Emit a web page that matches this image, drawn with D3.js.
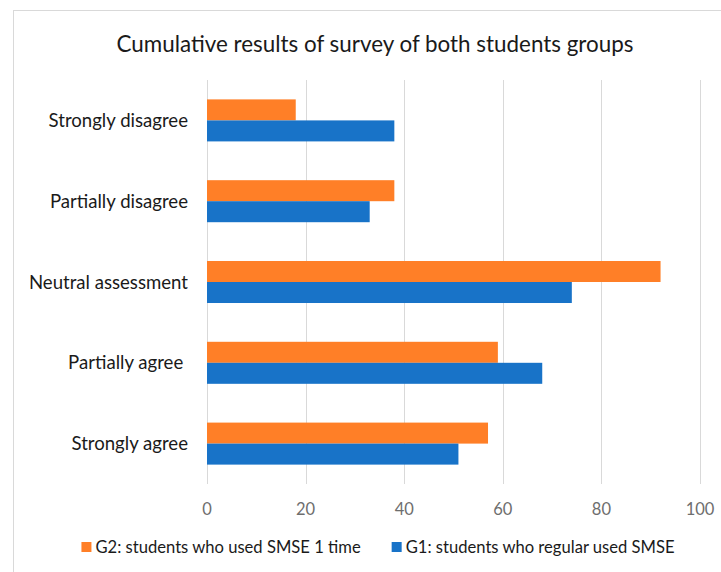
<!DOCTYPE html>
<html lang="en">
<head>
    <meta charset="UTF-8">
    <title>Cumulative results of survey of both students groups</title>
    <script src="https://cdn.jsdelivr.net/npm/d3@7"></script>
    <style>
        body {
            margin: 0;
            background: #fff;
        }

        svg text {
            font-family: Lato, "Open Sans", sans-serif;
        }

        .grid line {
            stroke: #d9d9d9;
            stroke-width: 1px
        }

        .cat-label {
            white-space: pre;
        }
    </style>
</head>
<body>
<div id="chart"></div>
<script>
    var categories = ['Strongly disagree', 'Partially disagree', 'Neutral assessment', 'Partially agree ', 'Strongly agree'];
    var seriesNames = ['G2: students who used SMSE 1 time', 'G1: students who regular used SMSE'];
    var g2Values = [18, 38, 92, 59, 57];
    var g1Values = [38, 33, 74, 68, 51];
    var xTicks = [0, 20, 40, 60, 80, 100];
    var colors = ['#ff7f27', '#1873c8'];

    var width = 721, height = 572;

    var svg = d3.select('#chart').append('svg')
        .attr('width', width)
        .attr('height', height);

    // chart area frame (cropped on the right and bottom)
    svg.append('rect')
        .attr('x', 13.5)
        .attr('y', 10.5)
        .attr('width', 740)
        .attr('height', 600)
        .attr('fill', '#fff')
        .attr('stroke', '#d9d9d9');

    svg.append('text')
        .attr('x', 375)
        .attr('y', 52)
        .attr('text-anchor', 'middle')
        .attr('font-size', '22.4px')
        .attr('fill', '#1a1a1a')
        .text('Cumulative results of survey of both students groups');

    var x = d3.scaleLinear().domain([0, 100]).range([207, 700]);
    var y = d3.scaleBand().domain(categories).range([80, 484])
        .paddingInner(0.48).paddingOuter(0.24);
    var ySub = d3.scaleBand().domain(seriesNames).range([0, y.bandwidth()]);

    // vertical gridlines
    svg.append('g').attr('class', 'grid')
        .selectAll('line')
        .data(xTicks)
        .enter()
        .append('line')
        .attr('x1', d => Math.round(x(d)) + 0.5)
        .attr('x2', d => Math.round(x(d)) + 0.5)
        .attr('y1', 80)
        .attr('y2', 484);

    var rows = categories.map(function (c, i) {
        return {cat: c, vals: [g2Values[i], g1Values[i]]};
    });

    var groups = svg.append('g')
        .selectAll('g')
        .data(rows)
        .enter()
        .append('g')
        .attr('transform', d => 'translate(0,' + y(d.cat) + ')');

    groups.selectAll('rect')
        .data(d => d.vals.map((v, j) => ({name: seriesNames[j], value: v, color: colors[j]})))
        .enter()
        .append('rect')
        .attr('x', x(0))
        .attr('y', d => ySub(d.name))
        .attr('width', d => x(d.value) - x(0))
        .attr('height', ySub.bandwidth())
        .attr('fill', d => d.color);

    // category labels
    svg.append('g')
        .selectAll('text')
        .data(categories)
        .enter()
        .append('text')
        .attr('class', 'cat-label')
        .attr('x', 188)
        .attr('y', d => y(d) + y.bandwidth() / 2)
        .attr('dy', '0.35em')
        .attr('text-anchor', 'end')
        .attr('font-size', '18.6px')
        .attr('fill', '#1a1a1a')
        .text(d => d);

    // x tick labels
    svg.append('g')
        .selectAll('text')
        .data(xTicks)
        .enter()
        .append('text')
        .attr('x', d => x(d))
        .attr('y', 509)
        .attr('dy', '0.35em')
        .attr('text-anchor', 'middle')
        .attr('font-size', '16.5px')
        .attr('fill', '#6e6e6e')
        .text(d => d);

    // legend
    var legend = svg.append('g');
    var items = legend.selectAll('g')
        .data(seriesNames)
        .enter()
        .append('g');
    items.append('rect')
        .attr('width', 10)
        .attr('height', 10)
        .attr('y', -5)
        .attr('fill', (d, i) => colors[i]);
    items.append('text')
        .attr('x', 14)
        .attr('dy', '0.35em')
        .attr('font-size', '16.6px')
        .attr('fill', '#1a1a1a')
        .text(d => d);

    var offs = [], total = 0;
    items.each(function (d, i) {
        var w = 14 + this.querySelector('text').getComputedTextLength();
        offs.push(total);
        total += w + (i < seriesNames.length - 1 ? 31 : 0);
    });
    var start = 378 - total / 2;
    items.attr('transform', (d, i) => 'translate(' + (start + offs[i]) + ',547)');
</script>
</body>
</html>
